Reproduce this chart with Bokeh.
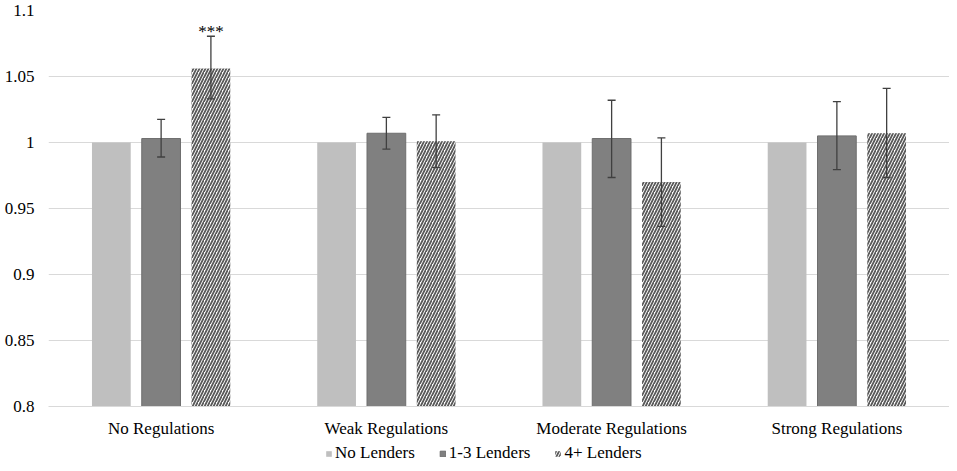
from bokeh.plotting import figure
from bokeh.layouts import column
from bokeh.models import (ColumnDataSource, FactorRange, FixedTicker, CustomJSTickFormatter,
                          Whisker, TeeHead, Legend, LegendItem, Range1d)
from bokeh.transform import dodge
from bokeh.core.properties import value
from bokeh.embed import file_html
from bokeh.resources import INLINE

groups = ["No Regulations", "Weak Regulations", "Moderate Regulations", "Strong Regulations"]
series = ["No Lenders", "1-3 Lenders", "4+ Lenders"]
no_lenders = [1.0, 1.0, 1.0, 1.0]
one_three = [1.003, 1.007, 1.003, 1.005]
one_three_lo = [0.989, 0.995, 0.9735, 0.9795]
one_three_hi = [1.0175, 1.019, 1.032, 1.031]
four_plus = [1.056, 1.001, 0.970, 1.007]
four_plus_lo = [1.033, 0.981, 0.9365, 0.9735]
four_plus_hi = [1.0805, 1.021, 1.0035, 1.041]
significance = ["***", "", "", ""]
y_ticks = [0.8, 0.85, 0.9, 0.95, 1.0, 1.05, 1.1]

FONT = "Liberation Serif"
FS = "17px"
OFF = 0.221
BW = 0.172
STYLES = [dict(fill_color="#BFBFBF", line_color=None),
          dict(fill_color="#808080", line_color="#6E6E6E", line_width=1),
          dict(fill_color="white", line_color=None, hatch_pattern="/",
               hatch_color="#595959", hatch_scale=6, hatch_weight=1.8)]
COLS = ["nl", "ot", "fp"]
OFFS = [-OFF, 0, OFF]

src = ColumnDataSource(dict(groups=groups, nl=no_lenders, ot=one_three, ot_lo=one_three_lo,
                            ot_hi=one_three_hi, fp=four_plus, fp_lo=four_plus_lo,
                            fp_hi=four_plus_hi, sig=significance))

p = figure(x_range=FactorRange(factors=groups, range_padding=0), y_range=(0.8, 1.1),
           width=949, height=440, output_backend="svg", toolbar_location=None,
           min_border_left=48, min_border_right=0, min_border_top=10, min_border_bottom=32)

for col, off, st in zip(COLS, OFFS, STYLES):
    p.vbar(x=dodge('groups', off, range=p.x_range), top=col, bottom=0.8, width=BW,
           source=src, **st)

for off, lo, hi in [(0, 'ot_lo', 'ot_hi'), (OFF, 'fp_lo', 'fp_hi')]:
    w = Whisker(source=src, base=dodge('groups', off, range=p.x_range), lower=lo, upper=hi,
                line_color="#404040", line_width=1.3,
                upper_head=TeeHead(size=8, line_color="#404040", line_width=1.3),
                lower_head=TeeHead(size=8, line_color="#404040", line_width=1.3))
    w.level = "annotation"
    p.add_layout(w)

p.text(x=dodge('groups', OFF, range=p.x_range), y='fp_hi', text='sig', source=src,
       text_align='center', text_baseline='alphabetic', y_offset=-5,
       text_font=value(FONT), text_font_size=value(FS), text_color="black")

p.xgrid.grid_line_color = None
p.ygrid.grid_line_color = "#D9D9D9"
p.ygrid.grid_line_width = 1
p.outline_line_color = None

p.yaxis.ticker = FixedTicker(ticks=y_ticks)
p.yaxis.formatter = CustomJSTickFormatter(code="return String(Number(tick.toFixed(2)))")
p.yaxis.axis_line_color = None
p.yaxis.major_tick_line_color = None
p.yaxis.minor_tick_line_color = None
p.yaxis.major_tick_out = 0
p.yaxis.major_label_standoff = 14
p.yaxis.major_label_text_font = FONT
p.yaxis.major_label_text_font_size = FS
p.yaxis.major_label_text_color = "black"

p.xaxis.axis_line_color = "#D9D9D9"
p.xaxis.major_tick_line_color = None
p.xaxis.minor_tick_line_color = None
p.xaxis.major_tick_out = 0
p.xaxis.major_label_standoff = 12
p.xaxis.major_label_text_font = FONT
p.xaxis.major_label_text_font_size = FS
p.xaxis.major_label_text_color = "black"

# legend strip (separate figure below the chart); its bars lie outside its view
lg = figure(x_range=FactorRange(factors=groups, range_padding=0), y_range=Range1d(5, 6),
            width=949, height=23, output_backend="svg", toolbar_location=None,
            x_axis_location=None, y_axis_location=None,
            min_border_left=0, min_border_right=0, min_border_top=0, min_border_bottom=0)
lg.grid.visible = False
lg.outline_line_color = None
items = []
for name, col, off, st in zip(series, COLS, OFFS, STYLES):
    r = lg.vbar(x=dodge('groups', off, range=lg.x_range), top=col, bottom=0.8, width=BW,
                source=src, **st)
    items.append(LegendItem(label=name, renderers=[r]))

legend = Legend(items=items, orientation="horizontal", location=(277, 0),
                label_text_font=FONT, label_text_font_size=FS, label_text_color="black",
                label_height=19, glyph_width=7, glyph_height=7,
                label_standoff=3, spacing=24,
                padding=0, margin=0, border_line_color=None, background_fill_alpha=0)
lg.add_layout(legend)

layout = column(p, lg, spacing=0)
open("out.html", "w").write(file_html(layout, INLINE))
